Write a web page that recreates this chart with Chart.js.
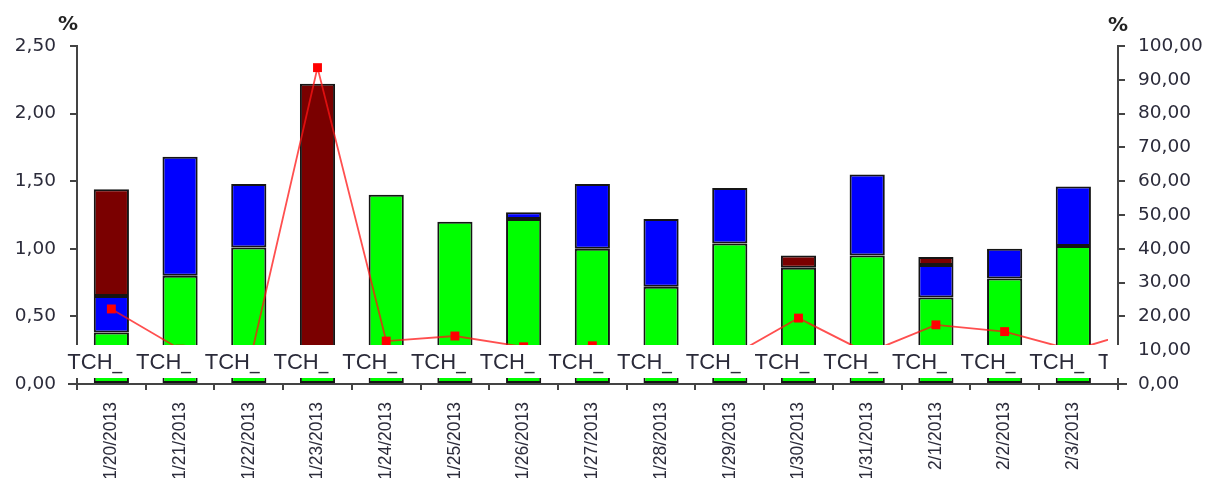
<!DOCTYPE html>
<html>
<head>
<meta charset="utf-8">
<script src="https://cdn.jsdelivr.net/npm/chart.js@4.4.1/dist/chart.umd.min.js"></script>
<style>
  html, body { margin: 0; padding: 0; background: #ffffff; }
  #wrap { width: 1226px; height: 478px; }
</style>
</head>
<body>
<div id="wrap"><canvas id="chart" width="1226" height="478"></canvas></div>
<script>
// Daily categories
const dates = ['1/20/2013', '1/21/2013', '1/22/2013', '1/23/2013', '1/24/2013', '1/25/2013', '1/26/2013',
  '1/27/2013', '1/28/2013', '1/29/2013', '1/30/2013', '1/31/2013', '2/1/2013', '2/2/2013', '2/3/2013'];

// Stacked bar segments, left axis (%)
const greenValues = [0.38, 0.80, 1.01, 0.15, 1.40, 1.20, 1.22, 1.00, 0.72, 1.04, 0.86, 0.95, 0.64, 0.78, 1.02];
const blueValues  = [0.27, 0.88, 0.47, null, null, null, 0.05, 0.48, 0.50, 0.41, null, 0.60, 0.24, 0.22, 0.44];
const darkRedValues = [0.79, null, null, 2.07, null, null, null, null, null, null, 0.09, null, 0.06, null, null];

// Line series, right axis (%) – runs one step past the last day
const lineValues = [22.2, 10.3, 5.3, 93.6, 12.7, 14.2, 11.0, 11.3, 10.0, 8.0, 19.5, 9.2, 17.5, 15.5, 10.0, 16.1];

// Labels in the strip just above the category axis
const stripLabels = ['TCH_', 'TCH_', 'TCH_', 'TCH_', 'TCH_', 'TCH_', 'TCH_', 'TCH_',
  'TCH_', 'TCH_', 'TCH_', 'TCH_', 'TCH_', 'TCH_', 'TCH_', 'TCH_'];

// Axis tick values
const leftTicks = [0, 0.5, 1.0, 1.5, 2.0, 2.5];
const rightTicks = [0, 10, 20, 30, 40, 50, 60, 70, 80, 90, 100];
const axisUnit = '%';

const axisColor = '#444444';
const textColor = '#2b2b3a';
const fmt = v => Number(v).toFixed(2).replace('.', ',');
const toPoints = arr => arr.map((v, i) => ({ x: i, y: v }));

const decor = {
  id: 'decor',
  afterDraw(chart) {
    const { ctx, chartArea: a, scales: { x } } = chart;
    ctx.save();

    // axis crossings and category separators
    ctx.strokeStyle = axisColor;
    ctx.lineWidth = 2;
    ctx.beginPath();
    ctx.moveTo(a.left - 9, a.bottom); ctx.lineTo(a.right + 9, a.bottom);
    ctx.moveTo(a.left, a.bottom); ctx.lineTo(a.left, a.bottom + 6);
    ctx.moveTo(a.right, a.bottom); ctx.lineTo(a.right, a.bottom + 6);
    for (let k = 1; k < dates.length; k++) {
      const px = Math.round(x.getPixelForValue(k - 0.5));
      ctx.moveTo(px, a.bottom); ctx.lineTo(px, a.bottom + 6);
    }
    ctx.stroke();

    // white label strip over the lower part of the plot
    const stripTop = a.bottom - 39, stripBottom = a.bottom - 6;
    ctx.fillStyle = '#ffffff';
    ctx.fillRect(a.left - 17, stripTop, a.right - a.left + 27, stripBottom - stripTop);

    const clipRight = x.getPixelForValue(dates.length - 0.5);
    ctx.beginPath();
    ctx.rect(a.left - 17, stripTop, clipRight - (a.left - 17), stripBottom - stripTop);
    ctx.clip();
    ctx.fillStyle = textColor;
    ctx.font = '22px "Liberation Sans", Arial, sans-serif';
    ctx.textAlign = 'left';
    ctx.textBaseline = 'alphabetic';
    stripLabels.forEach((t, i) => {
      const x0 = x.getPixelForValue(i) - 44;
      ctx.save();
      ctx.beginPath();
      ctx.rect(x0, stripTop, 55, stripBottom - stripTop);
      ctx.clip();
      ctx.fillText(t, x0, a.bottom - 15);
      ctx.restore();
    });
    ctx.restore();

    // unit captions above both value axes
    ctx.save();
    ctx.fillStyle = '#222222';
    ctx.font = 'bold 20px "DejaVu Sans", sans-serif';
    ctx.textAlign = 'center';
    ctx.textBaseline = 'middle';
    ctx.fillText(axisUnit, a.left - 9, 25);
    ctx.fillText(axisUnit, a.right, 26);
    ctx.restore();
  }
};

const tickFont = { family: '"DejaVu Sans", sans-serif', size: 18.5 };

new Chart(document.getElementById('chart'), {
  data: {
    datasets: [
      {
        type: 'line', label: 'line', yAxisID: 'y1', order: 0,
        data: toPoints(lineValues),
        borderColor: 'rgba(255,20,20,0.75)', borderWidth: 1.8,
        pointStyle: 'rect', pointRadius: 6.3, pointBorderWidth: 0,
        pointBackgroundColor: '#ff0000', tension: 0,
        clip: { left: 0, top: 20, right: -10, bottom: 0 }
      },
      {
        type: 'bar', label: 'green', yAxisID: 'y', order: 1, stack: 's',
        data: toPoints(greenValues), backgroundColor: '#00ff00',
        borderColor: '#151515', borderWidth: 2, borderSkipped: false
      },
      {
        type: 'bar', label: 'blue', yAxisID: 'y', order: 1, stack: 's',
        data: toPoints(blueValues), backgroundColor: '#0000ff',
        borderColor: '#151515', borderWidth: 2, borderSkipped: false
      },
      {
        type: 'bar', label: 'darkred', yAxisID: 'y', order: 1, stack: 's',
        data: toPoints(darkRedValues), backgroundColor: '#7a0000',
        borderColor: '#151515', borderWidth: 2, borderSkipped: false
      }
    ]
  },
  options: {
    responsive: false,
    animation: false,
    devicePixelRatio: 1,
    layout: { padding: { top: 46, left: 0, right: 0, bottom: 0 } },
    datasets: { bar: { barPercentage: 0.64, categoryPercentage: 0.8 } },
    plugins: { legend: { display: false }, tooltip: { enabled: false } },
    scales: {
      x: {
        type: 'linear', min: -0.5, max: 14.65, stacked: true, offset: false,
        afterBuildTicks: s => { s.ticks = dates.map((d, i) => ({ value: i })); },
        afterFit: s => { s.height = 94; },
        grid: { display: false },
        border: { display: true, color: axisColor, width: 2 },
        ticks: {
          autoSkip: false, minRotation: 90, maxRotation: 90, padding: 10,
          color: textColor, font: { family: '"Liberation Sans", Arial, sans-serif', size: 17.5 },
          callback: v => dates[v]
        }
      },
      y: {
        type: 'linear', position: 'left', stacked: true, min: 0, max: 2.5,
        afterBuildTicks: s => { s.ticks = leftTicks.map(v => ({ value: v })); },
        afterFit: s => { s.width = 77; },
        grid: { drawOnChartArea: false, drawTicks: true, tickLength: 7, tickColor: axisColor, lineWidth: 2 },
        border: { display: true, color: axisColor, width: 2 },
        ticks: { padding: 14, color: textColor, font: tickFont, callback: v => fmt(v) }
      },
      y1: {
        type: 'linear', position: 'right', min: 0, max: 100,
        afterBuildTicks: s => { s.ticks = rightTicks.map(v => ({ value: v })); },
        afterFit: s => { s.width = 108; },
        grid: { drawOnChartArea: false, drawTicks: true, tickLength: 7, tickColor: axisColor, lineWidth: 2 },
        border: { display: true, color: axisColor, width: 2 },
        ticks: { padding: 13, color: textColor, font: tickFont, callback: v => fmt(v) }
      }
    }
  },
  plugins: [decor]
});
</script>
</body>
</html>
